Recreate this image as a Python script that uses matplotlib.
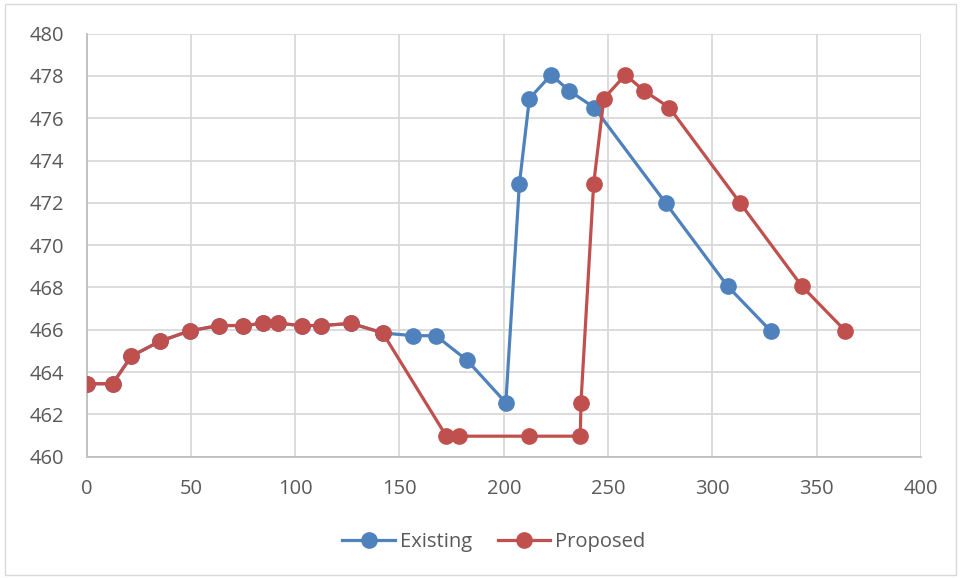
import matplotlib.pyplot as plt
from matplotlib.patches import Rectangle

# data
existing_x = [0, 12.5, 21.5, 35, 49.5, 63.5, 75, 84.5, 92, 103.5, 112.5, 127, 142,
              156.5, 167.5, 182.5, 201, 207.5, 212.3, 222.7, 231.5, 243.4, 277.7, 307.3, 327.9]
existing_y = [463.45, 463.45, 464.75, 465.45, 465.95, 466.2, 466.2, 466.3, 466.3, 466.2, 466.2, 466.3, 465.85,
              465.72, 465.72, 464.55, 462.55, 472.9, 476.93, 478.05, 477.29, 476.5, 471.98, 468.06, 465.95]
proposed_x = [0, 12.5, 21.5, 35, 49.5, 63.5, 75, 84.5, 92, 103.5, 112.5, 127, 142,
              172.5, 178.5, 212.3, 236.7, 237.0, 243.1, 248.0, 258.3, 267.4, 279.4, 313.4, 342.9, 363.7]
proposed_y = [463.45, 463.45, 464.75, 465.45, 465.95, 466.2, 466.2, 466.3, 466.3, 466.2, 466.2, 466.3, 465.85,
              460.97, 460.97, 460.97, 460.97, 462.55, 472.9, 476.93, 478.05, 477.29, 476.5, 471.98, 468.06, 465.95]

blue = '#4F81BD'
red = '#C0504D'
grid_c = '#D9D9D9'
text_c = '#595959'

plt.rcParams['font.family'] = ['Open Sans', 'DejaVu Sans']

fig = plt.figure(figsize=(9.61, 5.78), dpi=100)
ax = fig.add_axes([86.5 / 961, 1 - 456.7 / 578, (921 - 86.5) / 961, (456.7 - 33.6) / 578])

ax.plot(existing_x, existing_y, color=blue, lw=2.3, marker='o', ms=11, label='Existing', zorder=3)
ax.plot(proposed_x, proposed_y, color=red, lw=2.3, marker='o', ms=11, label='Proposed', zorder=4)

ax.set_xlim(0, 400)
ax.set_ylim(460, 480)
ax.set_xticks(range(0, 401, 50))
ax.set_yticks(range(460, 481, 2))
ax.grid(True, color=grid_c, lw=1.3, zorder=0)
ax.set_axisbelow(True)
for s in ['top', 'right']:
    ax.spines[s].set_visible(False)
for s in ['left', 'bottom']:
    ax.spines[s].set_color('#BFBFBF')
    ax.spines[s].set_linewidth(1.3)
ax.tick_params(length=0, labelsize=14.5, colors=text_c)
ax.tick_params(axis='y', pad=16)
ax.tick_params(axis='x', pad=16)

leg = fig.legend(loc='center', bbox_to_anchor=(494 / 961, 1 - 542 / 578), ncol=2, frameon=False,
                 fontsize=14.5, handlelength=2.6, columnspacing=1.3, handletextpad=0.25)
for t in leg.get_texts():
    t.set_color(text_c)

fig.patches.append(Rectangle((5 / 961, 3 / 578), 951 / 961, 571 / 578, transform=fig.transFigure,
                             fill=False, edgecolor='#D9D9D9', lw=1))

fig.savefig('out.png', dpi=100, facecolor='white')
